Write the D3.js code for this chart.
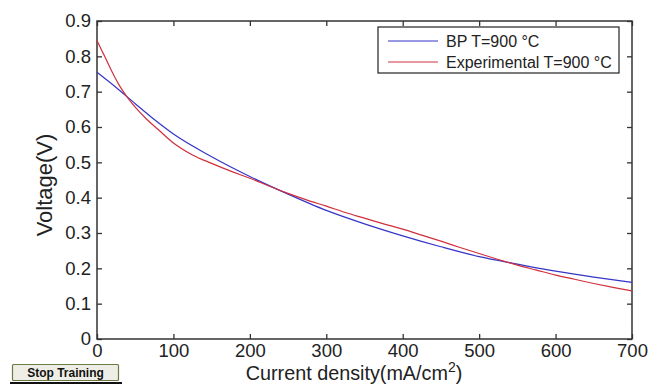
<!DOCTYPE html>
<html>
<head>
<meta charset="utf-8">
<script src="https://cdn.jsdelivr.net/npm/d3@7"></script>
<style>
  body { margin: 0; background: #fff; }
  svg { display: block; font-family: "Liberation Sans", Arial, sans-serif; }
</style>
</head>
<body>
<div id="chart"></div>
<script>
// current density (mA/cm2)
const bpX = [0, 25, 50, 75, 100, 150, 200, 250, 300, 350, 400, 450, 500, 550, 600, 650, 700];
const bpV = [0.755, 0.712, 0.666, 0.621, 0.58, 0.516, 0.46, 0.41, 0.364, 0.326, 0.292, 0.261, 0.233, 0.212, 0.192, 0.175, 0.16];

const expX = [0, 5, 10, 20, 30, 40, 50, 65, 80, 100, 125, 150, 175, 200, 225, 250, 275, 300, 325, 350, 375, 400, 425, 450, 475, 500, 525, 550, 575, 600, 625, 650, 675, 700];
const expV = [0.845, 0.822, 0.8, 0.755, 0.715, 0.683, 0.656, 0.622, 0.593, 0.555, 0.521, 0.497, 0.475, 0.455, 0.433, 0.412, 0.393, 0.376, 0.358, 0.342, 0.326, 0.311, 0.294, 0.277, 0.259, 0.242, 0.225, 0.209, 0.195, 0.181, 0.169, 0.157, 0.146, 0.136];

const xTicks = [0, 100, 200, 300, 400, 500, 600, 700];
const yTicks = [0, 0.1, 0.2, 0.3, 0.4, 0.5, 0.6, 0.7, 0.8, 0.9];
const seriesNames = ["BP T=900 °C", "Experimental T=900 °C"];
const seriesColors = ["#3535c8", "#d0303c"];

const W = 648, H = 384;
const pl = 97, pr = 632, pt = 21, pb = 339;

const svg = d3.select("#chart").append("svg")
    .attr("width", W).attr("height", H);

const x = d3.scaleLinear().domain([0, 700]).range([pl, pr]);
const y = d3.scaleLinear().domain([0, 0.9]).range([pb, pt]);

// box
svg.append("rect")
   .attr("x", pl).attr("y", pt)
   .attr("width", pr - pl).attr("height", pb - pt)
   .attr("fill", "none").attr("stroke", "#333").attr("stroke-width", 1.5);

// axes with inward ticks
const axisStyle = g => {
    g.select(".domain").remove();
    g.selectAll(".tick line").attr("stroke", "#333").attr("stroke-width", 1.3);
    g.selectAll(".tick text").attr("fill", "#222").style("font-size", "18.5px")
     .style("font-family", "Liberation Sans, Arial, sans-serif");
};

svg.append("g").attr("transform", `translate(0,${pb})`)
   .call(d3.axisBottom(x).tickValues(xTicks).tickSize(-5).tickPadding(5).tickFormat(d3.format("d")))
   .call(axisStyle);
svg.append("g").attr("transform", `translate(0,${pt})`)
   .call(d3.axisTop(x).tickValues(xTicks).tickSize(-5).tickFormat(""))
   .call(axisStyle);
svg.append("g").attr("transform", `translate(${pl},0)`)
   .call(d3.axisLeft(y).tickValues(yTicks).tickSize(-5).tickPadding(6).tickFormat(d => d === 0 ? "0" : d3.format(".1f")(d)))
   .call(axisStyle);
svg.append("g").attr("transform", `translate(${pr},0)`)
   .call(d3.axisRight(y).tickValues(yTicks).tickSize(-5).tickFormat(""))
   .call(axisStyle);

// lines
const line = d3.line().x(d => x(d[0])).y(d => y(d[1])).curve(d3.curveMonotoneX);
svg.append("path")
   .datum(bpX.map((v, i) => [v, bpV[i]]))
   .attr("d", line).attr("fill", "none")
   .attr("stroke", seriesColors[0]).attr("stroke-width", 1.2);
svg.append("path")
   .datum(expX.map((v, i) => [v, expV[i]]))
   .attr("d", line).attr("fill", "none")
   .attr("stroke", seriesColors[1]).attr("stroke-width", 1.2);

// legend
const lg = svg.append("g");
lg.append("rect").attr("x", 378).attr("y", 27).attr("width", 241).attr("height", 46)
  .attr("fill", "#fff").attr("stroke", "#222").attr("stroke-width", 1.2);
seriesNames.forEach((name, i) => {
    const ly = 41 + i * 21;
    lg.append("line").attr("x1", 388).attr("x2", 438).attr("y1", ly).attr("y2", ly)
      .attr("stroke", seriesColors[i]).attr("stroke-width", 1);
    lg.append("text").attr("x", 446).attr("y", ly + 6)
      .attr("fill", "#222").style("font-size", "16px").text(name);
});

// axis labels
svg.append("text")
   .attr("x", 354).attr("y", 379.8)
   .attr("text-anchor", "middle").attr("fill", "#222").style("font-size", "19.8px")
   .html('Current density(mA/cm<tspan dy="-8" font-size="14px">2</tspan><tspan dy="8">)</tspan>');

svg.append("text")
   .attr("transform", "translate(52,185) rotate(-90)")
   .attr("text-anchor", "middle").attr("fill", "#222").style("font-size", "22px")
   .text("Voltage(V)");

// Stop Training button
svg.append("rect").attr("x", 10).attr("y", 382).attr("width", 112).attr("height", 2).attr("fill", "#111");
svg.append("rect").attr("x", 12.5).attr("y", 364.5).attr("width", 106).attr("height", 16)
   .attr("fill", "#eeeee6").attr("stroke", "#6a7a40").attr("stroke-width", 1.2).attr("rx", 1);
svg.append("text").attr("x", 65.5).attr("y", 377).attr("text-anchor", "middle")
   .attr("fill", "#111").style("font-size", "12px").style("font-weight", "bold")
   .text("Stop Training");
</script>
</body>
</html>
